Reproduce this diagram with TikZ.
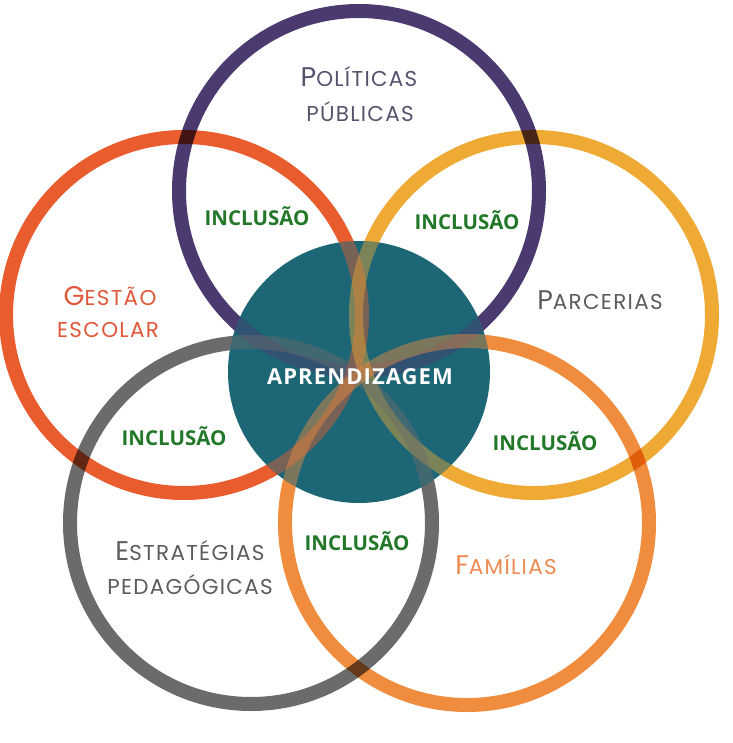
\documentclass[tikz,border=0pt]{standalone}
\usepackage{fontspec}
\setmainfont{Open Sans}
\newfontfamily\labfont{Poppins}[LetterSpace=6]
\newfontfamily\apfont{Open Sans}[LetterSpace=5]
\definecolor{cpurple}{RGB}{75,58,112}
\definecolor{cred}{RGB}{232,92,46}
\definecolor{cyellow}{RGB}{238,170,52}
\definecolor{cgray}{RGB}{107,107,107}
\definecolor{corange}{RGB}{240,140,62}
\definecolor{cteal}{RGB}{28,102,118}
\definecolor{cgreen}{RGB}{34,120,40}
\definecolor{tpurple}{RGB}{88,82,110}
\definecolor{tred}{RGB}{224,88,58}
\definecolor{tgray}{RGB}{92,92,92}
\definecolor{torange}{RGB}{236,138,80}
\newcommand\bigsm[2]{{\fontsize{27}{27}\selectfont #1}{\fontsize{21.5}{21.5}\selectfont #2}}
\newcommand\smonly[1]{{\fontsize{21.5}{21.5}\selectfont #1}}
\tikzset{
  ring/.style={line width=14pt},
  lab/.style={font=\labfont, inner sep=0pt, anchor=center},
  incl/.style={font=\bfseries\fontsize{20.5}{20.5}\selectfont, text=cgreen, inner sep=0pt},
}
\begin{document}
\begin{tikzpicture}[x=1pt,y=-1pt]
\useasboundingbox (0,0) rectangle (732,743);
\fill[white] (0,0) rectangle (732,743);
\begin{scope}[blend mode=multiply]
  \draw[ring, cpurple] (359,191) circle[radius=180];
  \draw[ring, cred] (184,315) circle[radius=178];
  \draw[ring, cyellow] (534,315) circle[radius=178];
  \draw[ring, cgray] (251,523) circle[radius=181];
  \draw[ring, corange] (467,523) circle[radius=182];
\end{scope}
\fill[cteal] (359,372) circle[radius=131];
\begin{scope}
  \clip (359,372) circle[radius=131];
  \begin{scope}[opacity=0.45]
  \draw[ring, cpurple] (359,191) circle[radius=180];
  \draw[ring, cred] (184,315) circle[radius=178];
  \draw[ring, cyellow] (534,315) circle[radius=178];
  \draw[ring, cgray] (251,523) circle[radius=181];
  \draw[ring, corange] (467,523) circle[radius=182];
  \end{scope}
\end{scope}
\node[lab, text=tpurple] (pol1) at (359,77) {\bigsm{P}{OLÍTICAS}};
\node[lab, text=tpurple] (pol2) at (360,112) {\smonly{PÚBLICAS}};
\node[lab, text=tred] (ges1) at (110,296) {\bigsm{G}{ESTÃO}};
\node[lab, text=tred] (ges2) at (108,330) {\smonly{ESCOLAR}};
\node[lab, text=tgray] (par) at (600,300) {\bigsm{P}{ARCERIAS}};
\node[lab, text=tgray] (est1) at (190,551) {\bigsm{E}{STRATÉGIAS}};
\node[lab, text=tgray] (est2) at (190,585) {\smonly{PEDAGÓGICAS}};
\node[lab, text=torange] (fam) at (506,565) {\bigsm{F}{AMÍLIAS}};
\node[font=\apfont\bfseries\fontsize{22}{22}\selectfont, text=white, inner sep=0pt] (apr) at (360,377) {APRENDIZAGEM};
\node[incl] (i1) at (257,216) {INCLUSÃO};
\node[incl] (i2) at (467,220) {INCLUSÃO};
\node[incl] (i3) at (174,436) {INCLUSÃO};
\node[incl] (i4) at (545,441) {INCLUSÃO};
\node[incl] (i5) at (357,541) {INCLUSÃO};
\end{tikzpicture}
\end{document}
